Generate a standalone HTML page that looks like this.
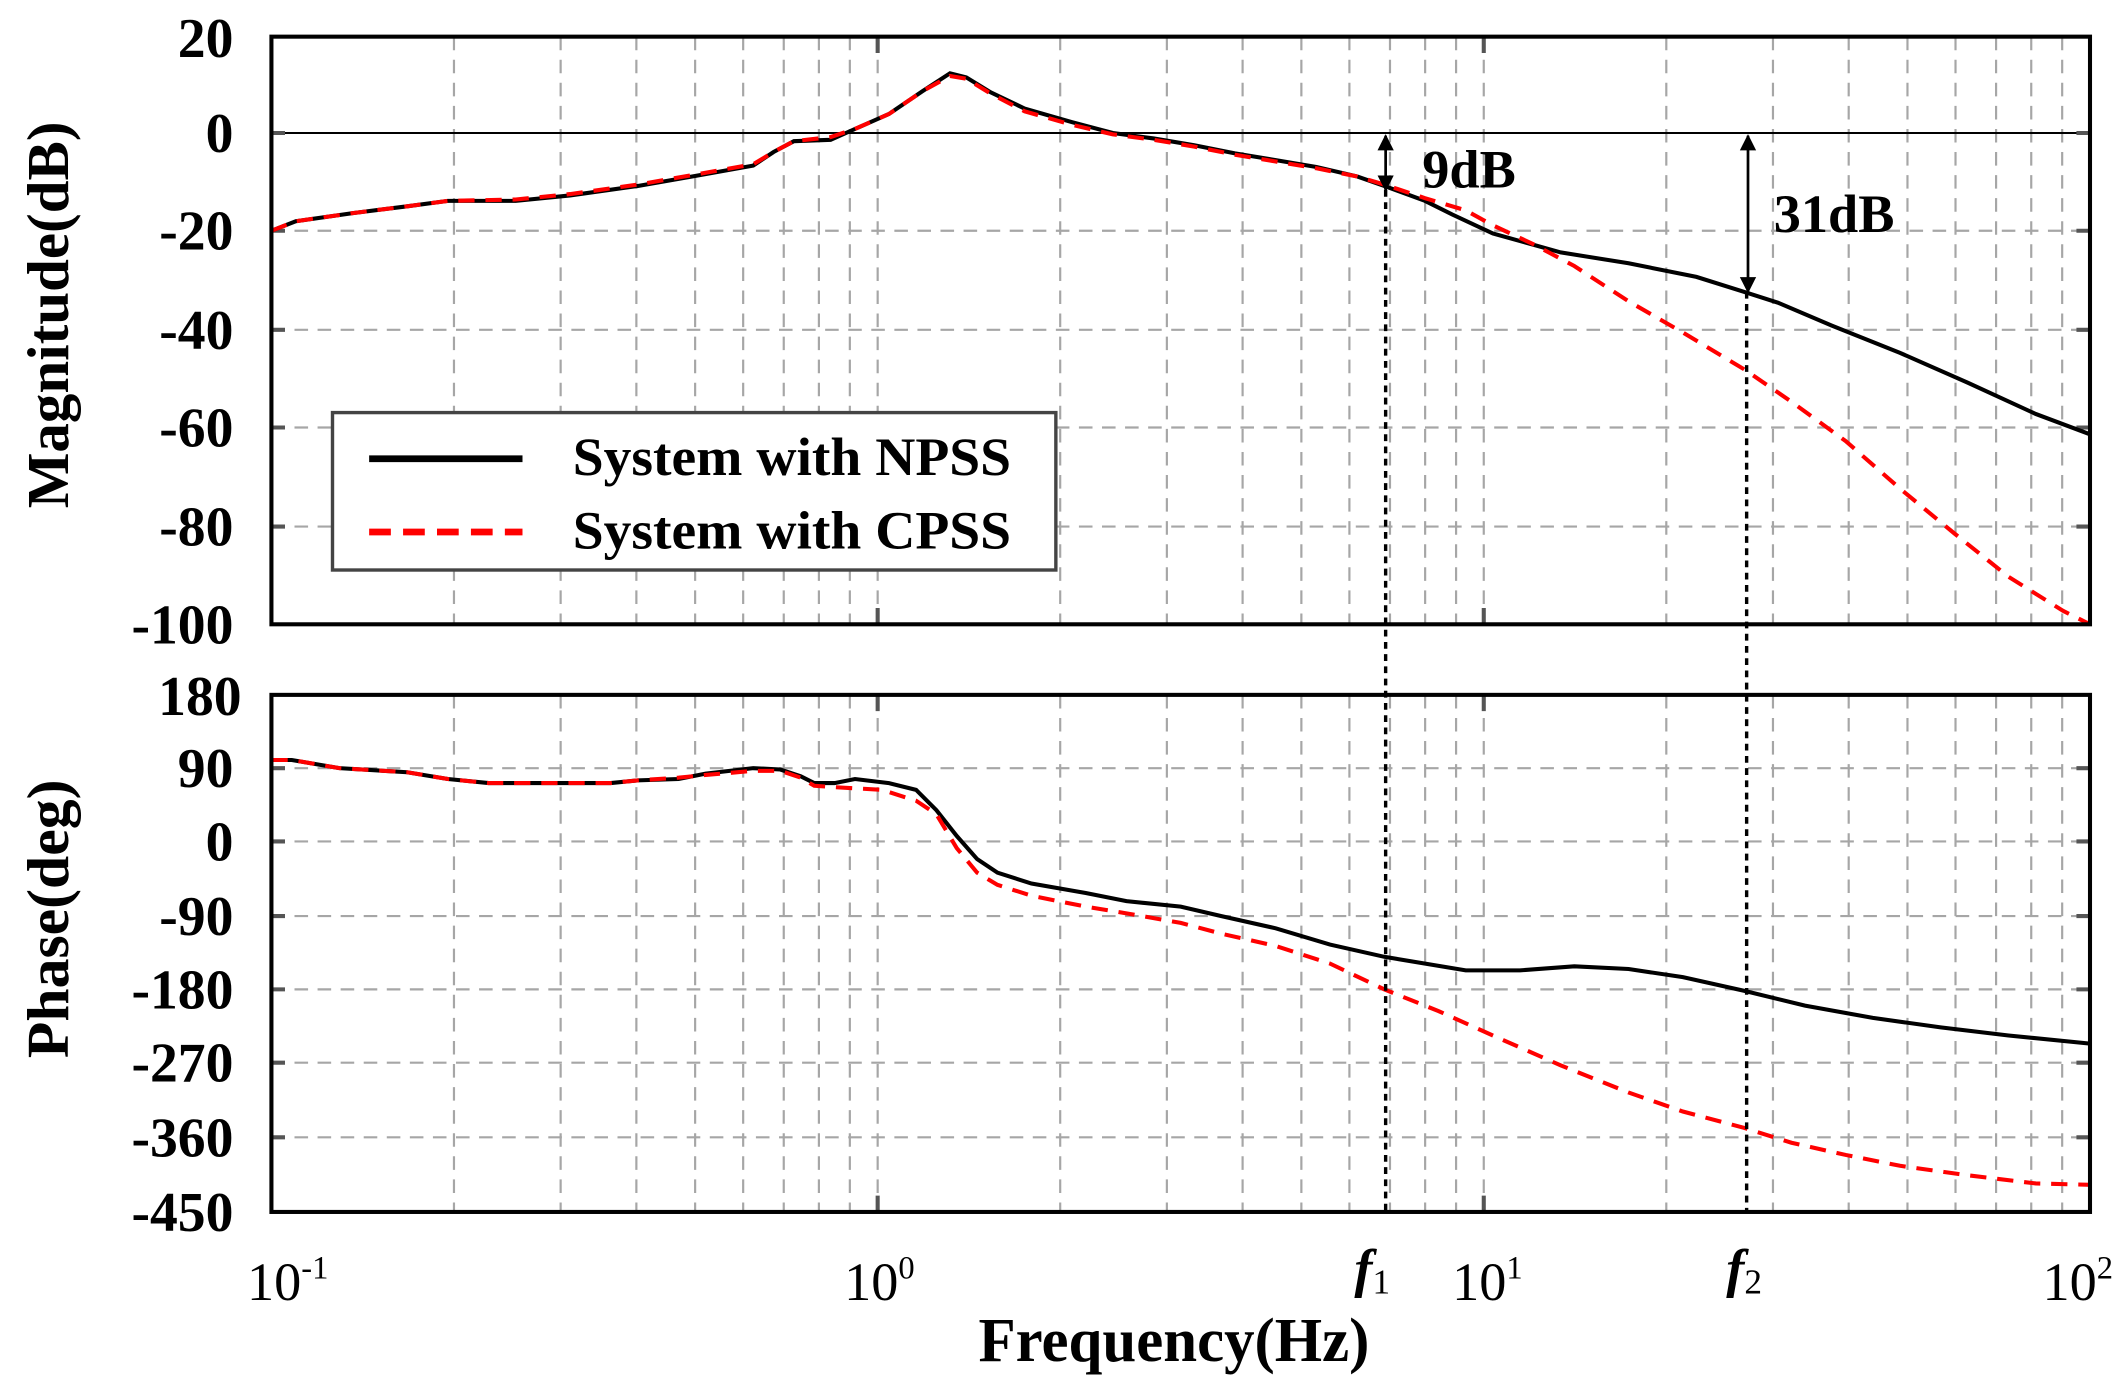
<!DOCTYPE html>
<html><head><meta charset="utf-8"><style>
html,body{margin:0;padding:0;background:#fff}
svg{display:block}
text{font-family:"Liberation Serif",serif;font-weight:bold;fill:#000}
</style></head><body>
<svg width="2128" height="1393" viewBox="0 0 1568 1026.4" xmlns="http://www.w3.org/2000/svg">
<defs>
<marker id="ah" viewBox="0 0 10 10" refX="9" refY="5" markerWidth="12" markerHeight="13" orient="auto-start-reverse" markerUnits="userSpaceOnUse">
<path d="M0,0 L10,5 L0,10 z" fill="#000"/></marker>
</defs>
<g stroke="#a6a6a6" stroke-width="1.6" stroke-dasharray="10,7" fill="none">
<path d="M334.5,27V460M413.1,27V460M468.9,27V460M512.2,27V460M547.6,27V460M577.5,27V460M603.4,27V460M626.2,27V460M646.7,27V460M781.2,27V460M859.8,27V460M915.6,27V460M958.9,27V460M994.3,27V460M1024.2,27V460M1050.1,27V460M1072.9,27V460M1093.3,27V460M1227.8,27V460M1306.4,27V460M1362.2,27V460M1405.5,27V460M1440.9,27V460M1470.8,27V460M1496.7,27V460M1519.5,27V460"/>
<path d="M334.5,512V893M413.1,512V893M468.9,512V893M512.2,512V893M547.6,512V893M577.5,512V893M603.4,512V893M626.2,512V893M646.7,512V893M781.2,512V893M859.8,512V893M915.6,512V893M958.9,512V893M994.3,512V893M1024.2,512V893M1050.1,512V893M1072.9,512V893M1093.3,512V893M1227.8,512V893M1306.4,512V893M1362.2,512V893M1405.5,512V893M1440.9,512V893M1470.8,512V893M1496.7,512V893M1519.5,512V893"/>
<path d="M200,170H1540M200,243H1540M200,315H1540M200,388H1540M200,566H1540M200,620H1540M200,675H1540M200,729H1540M200,783H1540M200,838H1540"/>
</g>
<line x1="200" y1="98" x2="1540" y2="98" stroke="#000" stroke-width="1.5"/>
<g stroke="#555" stroke-width="3">
<path d="M200,98h10M200,170h10M200,243h10M200,315h10M200,388h10M1540,98h-10M1540,170h-10M1540,243h-10M1540,315h-10M1540,388h-10"/>
<path d="M200,566h10M200,620h10M200,675h10M200,729h10M200,783h10M200,838h10M1540,566h-10M1540,620h-10M1540,675h-10M1540,729h-10M1540,783h-10M1540,838h-10"/>
<path d="M646.7,27v12M1093.3,27v12M646.7,460v-12M1093.3,460v-12M646.7,512v12M1093.3,512v12M646.7,893v-12M1093.3,893v-12"/>
</g>
<polyline fill="none" stroke="#000" stroke-width="3" points="200,170 218,163 260,157 300,152 330,148 380,148 420,144 470,137 510,130 555,122 570,112 585,104 612,103 630,95 655,84 680,67 700,54 712,57 730,68 755,80 790,90 820,98 850,102 880,107 910,113 940,118 970,123 1000,130 1020,137 1050,148 1070,158 1100,172 1150,186 1200,194 1250,204 1285,215 1310,223 1350,240 1400,260 1450,282 1500,305 1540,320"/>
<polyline fill="none" stroke="#f00" stroke-width="3" stroke-dasharray="12,8" points="200,170 218,163 260,157 300,152 330,148 380,147 420,143 470,136 510,129 555,121 570,112 585,104 612,101 630,95 655,84 680,67 700,56 712,58 730,69 755,82 790,92 820,99 850,103 880,108 910,114 940,119 970,124 1000,130 1020,136 1050,146 1080,155 1100,166 1130,180 1160,196 1200,222 1240,245 1285,272 1320,296 1360,325 1400,360 1440,393 1480,425 1520,450 1540,460"/>
<polyline fill="none" stroke="#000" stroke-width="3" points="200,560 215,560 250,566 300,569 330,574 360,577 400,577 450,577 470,575 500,574 520,570 555,566 575,567 590,572 600,577 615,577 630,574 655,577 675,582 690,597 705,616 720,633 735,643 760,651 800,658 830,664 870,668 900,675 940,684 980,696 1020,705 1080,715 1120,715 1160,712 1200,714 1240,720 1285,730 1330,741 1380,750 1430,757 1480,763 1540,769"/>
<polyline fill="none" stroke="#f00" stroke-width="3" stroke-dasharray="12,8" points="200,560 215,560 250,566 300,569 330,574 360,577 400,577 450,577 470,575 500,573 520,571 555,568 575,568 590,573 600,579 615,580 650,582 675,590 690,600 705,625 720,643 735,652 760,660 800,668 830,673 870,680 900,688 940,697 980,710 1020,729 1060,745 1100,763 1150,785 1200,805 1240,819 1285,831 1320,842 1360,851 1400,859 1450,866 1500,872 1540,873"/>
<rect x="200" y="27" width="1340" height="433" fill="none" stroke="#000" stroke-width="3"/>
<rect x="200" y="512" width="1340" height="381" fill="none" stroke="#000" stroke-width="3"/>
<g stroke="#000" stroke-width="2.5" stroke-dasharray="5,4">
<line x1="1021" y1="140" x2="1021" y2="893"/>
<line x1="1287" y1="215" x2="1287" y2="893"/>
</g>
<line x1="1021" y1="100" x2="1021" y2="140" stroke="#000" stroke-width="2" marker-start="url(#ah)" marker-end="url(#ah)"/>
<line x1="1288" y1="100" x2="1288" y2="215" stroke="#000" stroke-width="2" marker-start="url(#ah)" marker-end="url(#ah)"/>
<text x="1048" y="138" font-size="40">9dB</text>
<text x="1307" y="171" font-size="40">31dB</text>
<rect x="245" y="304" width="533" height="116" fill="#fff" stroke="#444" stroke-width="2.5"/>
<line x1="272" y1="338" x2="385" y2="338" stroke="#000" stroke-width="5"/>
<line x1="272" y1="392" x2="385" y2="392" stroke="#f00" stroke-width="5" stroke-dasharray="16,9"/>
<text x="422" y="350" font-size="40" textLength="323" lengthAdjust="spacingAndGlyphs">System with NPSS</text>
<text x="422" y="404" font-size="40" textLength="323" lengthAdjust="spacingAndGlyphs">System with CPSS</text>
<g font-size="41" text-anchor="end">
<text x="172" y="42">20</text><text x="172" y="112">0</text><text x="172" y="184">-20</text><text x="172" y="257">-40</text><text x="172" y="329">-60</text><text x="172" y="402">-80</text><text x="172" y="474">-100</text>
<text x="178" y="527">180</text><text x="172" y="580">90</text><text x="172" y="634">0</text><text x="172" y="689">-90</text><text x="172" y="743">-180</text><text x="172" y="797">-270</text><text x="172" y="852">-360</text><text x="172" y="907">-450</text>
</g>
<text transform="translate(50,232) rotate(-90)" font-size="44" text-anchor="middle" textLength="285" lengthAdjust="spacingAndGlyphs">Magnitude(dB)</text>
<text transform="translate(50,677) rotate(-90)" font-size="44" text-anchor="middle">Phase(deg)</text>
<g font-size="40">
<text x="182" y="958" style="font-weight:normal">10<tspan dy="-16" font-size="24">-1</tspan></text>
<text x="622" y="958" style="font-weight:normal">10<tspan dy="-16" font-size="24">0</tspan></text>
<text x="1070" y="958" style="font-weight:normal">10<tspan dy="-16" font-size="24">1</tspan></text>
<text x="1505" y="958" style="font-weight:normal">10<tspan dy="-16" font-size="24">2</tspan></text>
<text x="998" y="948" style="font-style:italic">f<tspan font-size="26" font-style="normal" font-weight="normal" dy="5">1</tspan></text>
<text x="1272" y="948" style="font-style:italic">f<tspan font-size="26" font-style="normal" font-weight="normal" dy="5">2</tspan></text>
</g>
<text x="865" y="1003" font-size="46" text-anchor="middle" textLength="288" lengthAdjust="spacingAndGlyphs">Frequency(Hz)</text>
</svg>
</body></html>
